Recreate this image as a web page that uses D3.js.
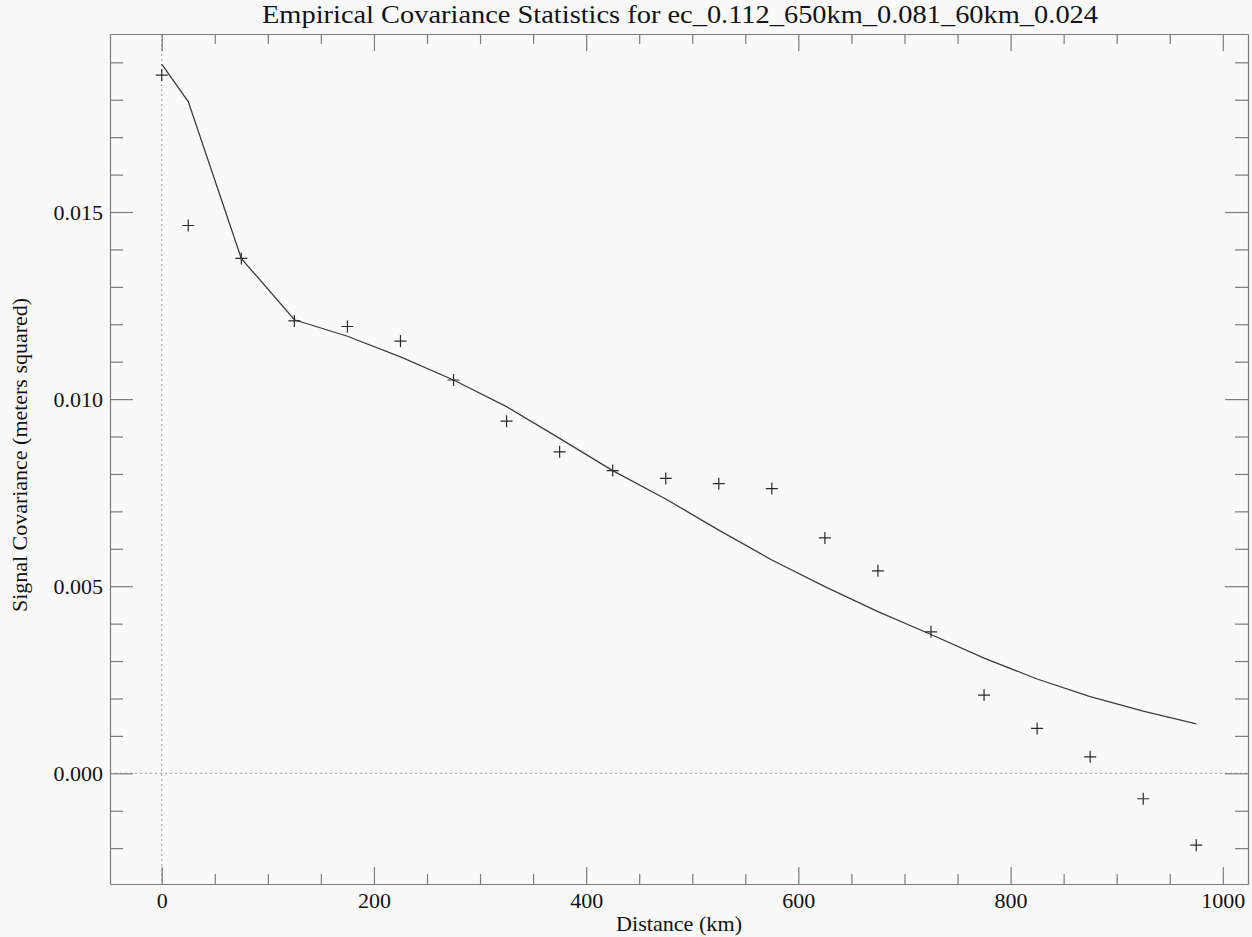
<!DOCTYPE html>
<html>
<head>
<meta charset="utf-8">
<script src="https://cdn.jsdelivr.net/npm/d3@7"></script>
<style>
  html, body { margin: 0; padding: 0; background: #f9f9f9; }
  svg { display: block; }
  text { font-family: "Liberation Serif", "DejaVu Serif", serif; fill: #111; }
</style>
</head>
<body>
<svg id="chart" width="1252" height="937"></svg>
<script>
// ---- data ----
const distances = [0, 25, 75, 125, 175, 225, 275, 325, 375, 425, 475, 525, 575, 625, 675, 725, 775, 825, 875, 925, 975];
const empirical = [0.01866, 0.01464, 0.01376, 0.01209, 0.01194, 0.01155, 0.01051, 0.00941, 0.00859, 0.00809, 0.00788, 0.00774, 0.00761, 0.00629, 0.00541, 0.00378, 0.00209, 0.00120, 0.00044, -0.00068, -0.00192];
const model = [0.01895, 0.01795, 0.01376, 0.01212, 0.01168, 0.01113, 0.01051, 0.00980, 0.00895, 0.00809, 0.00733, 0.00650, 0.00570, 0.00499, 0.00432, 0.00371, 0.00308, 0.00252, 0.00205, 0.00166, 0.00132];
const xMajorTicks = [0, 200, 400, 600, 800, 1000];
const xMinorTicks = [-50, 50, 100, 150, 250, 300, 350, 450, 500, 550, 650, 700, 750, 850, 900, 950];
const yMajorTicks = [0.000, 0.005, 0.010, 0.015];
const yMinorTicks = [-0.002, -0.001, 0.001, 0.002, 0.003, 0.004, 0.006, 0.007, 0.008, 0.009, 0.011, 0.012, 0.013, 0.014, 0.016, 0.017, 0.018, 0.019];
const titleText = "Empirical Covariance Statistics for ec_0.112_650km_0.081_60km_0.024";
const xLabel = "Distance (km)";
const yLabel = "Signal Covariance (meters squared)";

// ---- layout ----
const L = 110, R = 1248, T = 34, B = 884;
const axisColor = "#7a7a7a";

const svg = d3.select("#chart");
svg.append("rect").attr("width", 1252).attr("height", 937).attr("fill", "#f9f9f9");

const x = d3.scaleLinear().domain([-48.75, 1023.75]).range([L, R]);
const y = d3.scaleLinear().domain([-0.002958, 0.019757]).range([B, T]);

// zero reference lines (dotted)
svg.append("line").attr("x1", x(0)).attr("x2", x(0)).attr("y1", T).attr("y2", B)
  .attr("stroke", "#9a9a9a").attr("stroke-dasharray", "2,3").attr("stroke-width", 1);
svg.append("line").attr("x1", L).attr("x2", R).attr("y1", y(0)).attr("y2", y(0))
  .attr("stroke", "#9a9a9a").attr("stroke-dasharray", "2,3").attr("stroke-width", 1);

function styleAxis(g) {
  g.selectAll(".domain").attr("stroke", axisColor).attr("stroke-width", 1.2);
  g.selectAll(".tick line").attr("stroke", axisColor).attr("stroke-width", 1.2);
  g.selectAll("text").attr("font-family", "Liberation Serif, serif").attr("font-size", 22).attr("fill", "#111");
}

const xMajLen = 17, xMinLen = 10, yMajLen = 23, yMinLen = 13;

// bottom axis
const gB = svg.append("g").attr("transform", `translate(0,${B})`)
  .call(d3.axisBottom(x).tickValues(xMajorTicks).tickSize(-xMajLen).tickSizeOuter(0).tickPadding(0).tickFormat(d3.format("d")));
gB.selectAll("text").attr("y", 24).attr("dy", 0);
styleAxis(gB);
const gBm = svg.append("g").attr("transform", `translate(0,${B})`)
  .call(d3.axisBottom(x).tickValues(xMinorTicks.filter(v => x(v) > L)).tickSize(-xMinLen).tickSizeOuter(0).tickFormat(""));
gBm.select(".domain").remove();
styleAxis(gBm);

// top axis
const gT = svg.append("g").attr("transform", `translate(0,${T})`)
  .call(d3.axisTop(x).tickValues(xMajorTicks).tickSize(-xMajLen).tickSizeOuter(0).tickFormat(""));
styleAxis(gT);
const gTm = svg.append("g").attr("transform", `translate(0,${T})`)
  .call(d3.axisTop(x).tickValues(xMinorTicks.filter(v => x(v) > L)).tickSize(-xMinLen).tickSizeOuter(0).tickFormat(""));
gTm.select(".domain").remove();
styleAxis(gTm);

// left axis
const gL = svg.append("g").attr("transform", `translate(${L},0)`)
  .call(d3.axisLeft(y).tickValues(yMajorTicks).tickSize(-yMajLen).tickSizeOuter(0).tickPadding(7).tickFormat(d3.format(".3f")));
styleAxis(gL);
gL.selectAll("text").attr("dy", "0.34em");
const gLm = svg.append("g").attr("transform", `translate(${L},0)`)
  .call(d3.axisLeft(y).tickValues(yMinorTicks).tickSize(-yMinLen).tickSizeOuter(0).tickFormat(""));
gLm.select(".domain").remove();
styleAxis(gLm);

// right axis
const gR = svg.append("g").attr("transform", `translate(${R},0)`)
  .call(d3.axisRight(y).tickValues(yMajorTicks).tickSize(-yMajLen).tickSizeOuter(0).tickFormat(""));
styleAxis(gR);
const gRm = svg.append("g").attr("transform", `translate(${R},0)`)
  .call(d3.axisRight(y).tickValues(yMinorTicks).tickSize(-yMinLen).tickSizeOuter(0).tickFormat(""));
gRm.select(".domain").remove();
styleAxis(gRm);

// model line
const line = d3.line().x((d, i) => x(distances[i])).y(d => y(d)).curve(d3.curveLinear);
svg.append("path").datum(model).attr("d", line)
  .attr("fill", "none").attr("stroke", "#3c3c3c").attr("stroke-width", 1.3);

// empirical points (plus symbols)
svg.append("g").selectAll("path").data(empirical).join("path")
  .attr("transform", (d, i) => `translate(${x(distances[i])},${y(d)})`)
  .attr("d", "M-6,0H6M0,-6V6")
  .attr("stroke", "#2a2a2a").attr("stroke-width", 1.2).attr("fill", "none");

// title
svg.append("text").attr("x", 680).attr("y", 23).attr("text-anchor", "middle")
  .attr("font-size", 25).attr("textLength", 836).attr("lengthAdjust", "spacingAndGlyphs")
  .text(titleText);

// x label
svg.append("text").attr("x", (L + R) / 2).attr("y", 931).attr("text-anchor", "middle")
  .attr("font-size", 22).attr("textLength", 126).attr("lengthAdjust", "spacingAndGlyphs")
  .text(xLabel);

// y label
svg.append("text").attr("transform", `translate(27,455) rotate(-90)`).attr("text-anchor", "middle")
  .attr("font-size", 22).attr("textLength", 314).attr("lengthAdjust", "spacingAndGlyphs")
  .text(yLabel);
</script>
</body>
</html>
